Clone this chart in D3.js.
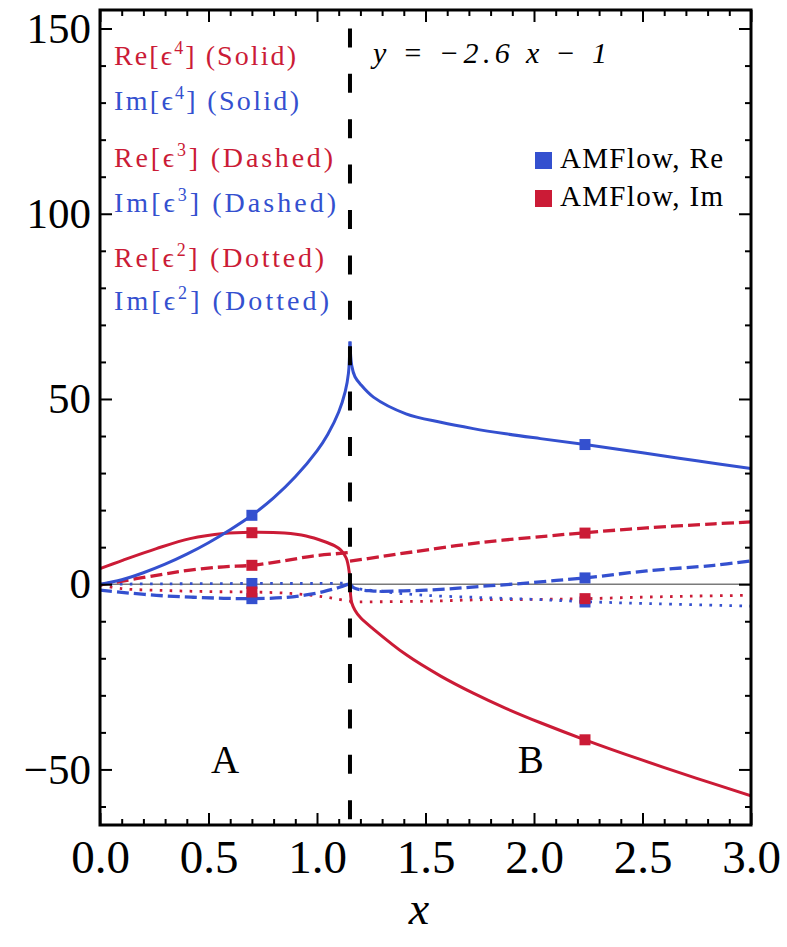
<!DOCTYPE html>
<html><head><meta charset="utf-8">
<script src="https://cdn.jsdelivr.net/npm/d3@7/dist/d3.min.js"></script>
<style>body{margin:0;background:#fff}svg{display:block}</style>
</head><body>
<script>
// ---------------- data ----------------
const xBreak = 1.152;              // boundary between region A and B
const xTicksMajor = [0, 0.5, 1, 1.5, 2, 2.5, 3];
const xTickLabels = ["0.0", "0.5", "1.0", "1.5", "2.0", "2.5", "3.0"];
const yTicksMajor = [-50, 0, 50, 100, 150];
const yTickLabels = ["\u221250", "0", "50", "100", "150"];

// Im[eps^4] (solid, blue)
const im4_xA = [0, 0.1, 0.2, 0.3, 0.4, 0.5, 0.6, 0.7, 0.8, 0.9, 1.0, 1.05, 1.1, 1.13, 1.145, 1.152];
const im4_vA = [0, 1.2, 3.1, 5.4, 8.1, 11.2, 14.7, 18.6, 23.3, 29.0, 36.0, 40.5, 46.5, 52.0, 57.0, 65.5];
const im4_xB = [1.152, 1.16, 1.175, 1.2, 1.26, 1.41, 1.57, 1.72, 1.87, 2.03, 2.235, 2.5, 2.75, 3.0];
const im4_vB = [65.5, 59, 56, 54, 50.5, 46, 43.7, 42, 40.6, 39.3, 37.7, 35.5, 33.3, 31.2];
// Re[eps^4] (solid, red)
const re4_xA = [0, 0.107, 0.26, 0.415, 0.57, 0.70, 0.85, 0.95, 1.03, 1.08, 1.11, 1.135, 1.148, 1.152];
const re4_vA = [4.2, 6.5, 9.6, 12.3, 13.7, 14.0, 13.8, 13.0, 11.6, 10.4, 9.2, 7.0, 3.5, 0];
const re4_xB = [1.152, 1.155, 1.16, 1.175, 1.2, 1.26, 1.41, 1.57, 1.72, 1.87, 2.03, 2.235, 2.49, 2.75, 3.0];
const re4_vB = [0, -3, -5, -7, -9, -12.1, -19.0, -24.8, -29.4, -33.5, -37.4, -42, -47.3, -52.4, -57.1];
// Re[eps^3] (dashed, red)
const re3_xA = [0, 0.05, 0.26, 0.415, 0.57, 0.70, 0.845, 0.98, 1.12, 1.152];
const re3_vA = [-0.2, 0.3, 2.4, 3.8, 4.7, 5.1, 6.3, 7.6, 8.4, 8.6];
const re3_xB = [1.152, 1.29, 1.44, 1.75, 2.06, 2.235, 2.52, 2.83, 3.0];
const re3_vB = [6.2, 7.4, 8.7, 11.2, 13.0, 13.9, 15.2, 16.3, 16.8];
// Im[eps^3] (dashed, blue)
const im3_xA = [0, 0.1, 0.26, 0.42, 0.57, 0.70, 0.85, 0.95, 1.03, 1.1, 1.152];
const im3_vA = [-1.6, -2.2, -3.0, -3.5, -3.8, -3.9, -3.6, -2.9, -2.0, -0.9, 0.2];
const im3_xB = [1.152, 1.17, 1.25, 1.4, 1.6, 1.75, 1.9, 2.06, 2.235, 2.52, 2.83, 3.0];
const im3_vB = [0.2, -1.0, -1.8, -1.8, -1.3, -0.6, 0.0, 0.8, 1.7, 3.6, 5.1, 6.3];
// Re[eps^2] (dotted, red)
const re2_xA = [0, 0.1, 0.3, 0.5, 0.7, 0.88, 1.03, 1.12, 1.152];
const re2_vA = [-0.2, -1.2, -1.7, -2.0, -2.1, -2.5, -3.4, -4.3, -4.6];
const re2_xB = [1.152, 1.5, 1.75, 2.0, 2.235, 2.5, 2.75, 3.0];
const re2_vB = [-4.8, -4.6, -4.2, -4.1, -3.9, -3.5, -3.2, -3.0];
// Im[eps^2] (dotted, blue)
const im2_xA = [0, 0.3, 0.7, 1.0, 1.152];
const im2_vA = [0, 0.1, 0.2, 0.2, 0.3];
const im2_xB = [1.152, 1.2, 1.3, 1.5, 1.75, 2.0, 2.235, 2.5, 3.0];
const im2_vB = [-0.8, -1.3, -2.0, -3.0, -3.6, -4.1, -4.7, -5.2, -5.9];

// AMFlow points
const markerX = [0.7, 2.235];
const amflowRe_A = [18.6, 0.2, -3.9];   // at x = 0.7
const amflowRe_B = [37.7, 1.7, -4.8];   // at x = 2.235
const amflowIm_A = [13.9, 5.1, -2.1];
const amflowIm_B = [-42, 13.8, -3.9];

const legendLines = [
  {pre: "Re[\u03F5", sup: "4", post: "] (Solid)", cls: "re"},
  {pre: "Im[\u03F5", sup: "4", post: "] (Solid)", cls: "im"},
  {pre: "Re[\u03F5", sup: "3", post: "] (Dashed)", cls: "re"},
  {pre: "Im[\u03F5", sup: "3", post: "] (Dashed)", cls: "im"},
  {pre: "Re[\u03F5", sup: "2", post: "] (Dotted)", cls: "re"},
  {pre: "Im[\u03F5", sup: "2", post: "] (Dotted)", cls: "im"}
];
const ampLegend = ["AMFlow, Re", "AMFlow, Im"];
const regionLabels = [{t: "A", x: 0.576}, {t: "B", x: 1.985}];

// ---------------- drawing ----------------
const RED = "#CB1B36", BLUE = "#3450CF";
const W = 787, H = 947;
const L = 100, R = 751, T = 10, B = 825;
const x = d3.scaleLinear().domain([0, 3]).range([L, R]);
const y = d3.scaleLinear().domain([-65, 155]).range([B, T]);
const SERIF = "'Liberation Serif', 'DejaVu Serif', serif";

const svg = d3.select("body").append("svg").attr("width", W).attr("height", H)
  .style("font-family", SERIF);

svg.append("clipPath").attr("id", "clip").append("rect")
  .attr("x", L).attr("y", T).attr("width", R - L).attr("height", B - T);

const plot = svg.append("g").attr("clip-path", "url(#clip)");

// zero line
plot.append("line").attr("x1", L).attr("x2", R).attr("y1", y(0)).attr("y2", y(0))
  .attr("stroke", "#7a7a7a").attr("stroke-width", 1.6);

const line = d3.line().x(d => x(d[0])).y(d => y(d[1])).curve(d3.curveCatmullRom.alpha(0.5));
function zip(xs, vs) { return xs.map((v, i) => [v, vs[i]]); }

const styles = {
  solid: {w: 3, dash: null},
  dashed: {w: 3.3, dash: "12,5"},
  dotted: {w: 2.8, dash: "2.6,7.4"}
};
const curves = [
  [re2_xA, re2_vA, RED, "dotted"], [re2_xB, re2_vB, RED, "dotted"],
  [im2_xA, im2_vA, BLUE, "dotted"], [im2_xB, im2_vB, BLUE, "dotted"],
  [re3_xA, re3_vA, RED, "dashed"], [re3_xB, re3_vB, RED, "dashed"],
  [im3_xA, im3_vA, BLUE, "dashed"], [im3_xB, im3_vB, BLUE, "dashed"],
  [re4_xA, re4_vA, RED, "solid"], [re4_xB, re4_vB, RED, "solid"],
  [im4_xA, im4_vA, BLUE, "solid"], [im4_xB, im4_vB, BLUE, "solid"]
];
curves.forEach(([xs, vs, col, st]) => {
  plot.append("path").attr("d", line(zip(xs, vs)))
    .attr("fill", "none").attr("stroke", col)
    .attr("stroke-width", styles[st].w)
    .attr("stroke-dasharray", styles[st].dash)
    .attr("stroke-linejoin", "round");
});

// vertical dashed boundary
svg.append("line").attr("x1", x(xBreak)).attr("x2", x(xBreak)).attr("y1", T).attr("y2", B)
  .attr("stroke", "#000").attr("stroke-width", 4)
  .attr("stroke-dasharray", "19,26.4").attr("stroke-dashoffset", 27);

// markers
const MS = 11;
function markers(vals, xv, col) {
  svg.selectAll(null).data(vals).enter().append("rect")
    .attr("x", x(xv) - MS / 2).attr("y", d => y(d) - MS / 2)
    .attr("width", MS).attr("height", MS).attr("fill", col);
}
markers(amflowRe_A, markerX[0], BLUE);
markers(amflowRe_B, markerX[1], BLUE);
markers(amflowIm_A, markerX[0], RED);
markers(amflowIm_B, markerX[1], RED);

// axes & ticks
const minorX = d3.range(0, 3.0001, 0.1).map(v => +v.toFixed(2)).filter(v => Math.abs(v * 2 - Math.round(v * 2)) > 1e-6);
const minorY = d3.range(-60, 151, 10).filter(v => v % 50 !== 0);
function clean(g) { g.select(".domain").remove(); g.selectAll("line").attr("stroke", "#000").attr("stroke-width", 2); }

svg.append("g").attr("transform", `translate(0,${B})`)
  .call(d3.axisBottom(x).tickValues(xTicksMajor).tickFormat((d, i) => xTickLabels[i]).tickSizeInner(-12).tickSizeOuter(0).tickPadding(15))
  .call(clean)
  .call(g => g.selectAll("text").attr("font-size", 47).attr("font-family", SERIF).attr("fill", "#000"));
svg.append("g").attr("transform", `translate(0,${B})`)
  .call(d3.axisBottom(x).tickValues(minorX).tickFormat("").tickSizeInner(-6).tickSizeOuter(0)).call(clean);
svg.append("g").attr("transform", `translate(0,${T})`)
  .call(d3.axisTop(x).tickValues(xTicksMajor).tickFormat("").tickSizeInner(-12).tickSizeOuter(0)).call(clean);
svg.append("g").attr("transform", `translate(0,${T})`)
  .call(d3.axisTop(x).tickValues(minorX).tickFormat("").tickSizeInner(-6).tickSizeOuter(0)).call(clean);

svg.append("g").attr("transform", `translate(${L},0)`)
  .call(d3.axisLeft(y).tickValues(yTicksMajor).tickFormat((d, i) => yTickLabels[i]).tickSizeInner(-12).tickSizeOuter(0).tickPadding(9))
  .call(clean)
  .call(g => g.selectAll("text").attr("font-size", 43).attr("font-family", SERIF).attr("fill", "#000"));
svg.append("g").attr("transform", `translate(${L},0)`)
  .call(d3.axisLeft(y).tickValues(minorY).tickFormat("").tickSizeInner(-6).tickSizeOuter(0)).call(clean);
svg.append("g").attr("transform", `translate(${R},0)`)
  .call(d3.axisRight(y).tickValues(yTicksMajor).tickFormat("").tickSizeInner(-12).tickSizeOuter(0)).call(clean);
svg.append("g").attr("transform", `translate(${R},0)`)
  .call(d3.axisRight(y).tickValues(minorY).tickFormat("").tickSizeInner(-6).tickSizeOuter(0)).call(clean);

// frame
svg.append("rect").attr("x", L).attr("y", T).attr("width", R - L).attr("height", B - T)
  .attr("fill", "none").attr("stroke", "#000").attr("stroke-width", 3);

// axis title
svg.append("text").attr("x", x(1.47)).attr("y", 924).attr("text-anchor", "middle")
  .attr("font-size", 46).attr("font-style", "italic").text("x");

// left legend texts
const legY = [65, 110, 167, 212, 267, 310];
const legW = [182, 185, 219, 222, 210, 215];
legendLines.forEach((d, i) => {
  const t = svg.append("text").attr("x", 114).attr("y", legY[i])
    .attr("font-size", 28).attr("fill", d.cls === "re" ? RED : BLUE)
    .attr("textLength", legW[i]).attr("lengthAdjust", "spacing");
  t.append("tspan").text(d.pre);
  t.append("tspan").attr("dy", -11).attr("font-size", 18).text(d.sup);
  t.append("tspan").attr("dy", 11).text(d.post);
});

// equation
svg.append("text").attr("x", 373).attr("y", 63).attr("font-size", 30)
  .attr("font-style", "italic").attr("textLength", 234).attr("lengthAdjust", "spacing")
  .text("y = \u22122.6 x \u2212 1");

// AMFlow legend
[BLUE, RED].forEach((c, i) => {
  const yy = [168, 206][i];
  svg.append("rect").attr("x", 535).attr("y", yy - 16).attr("width", 17).attr("height", 17).attr("fill", c);
  svg.append("text").attr("x", 560).attr("y", yy).attr("font-size", 29)
    .attr("textLength", 163).attr("lengthAdjust", "spacing").text(ampLegend[i]);
});

// region labels
regionLabels.forEach(d => {
  svg.append("text").attr("x", x(d.x)).attr("y", 773).attr("text-anchor", "middle")
    .attr("font-size", 39).text(d.t);
});
</script>
</body></html>
